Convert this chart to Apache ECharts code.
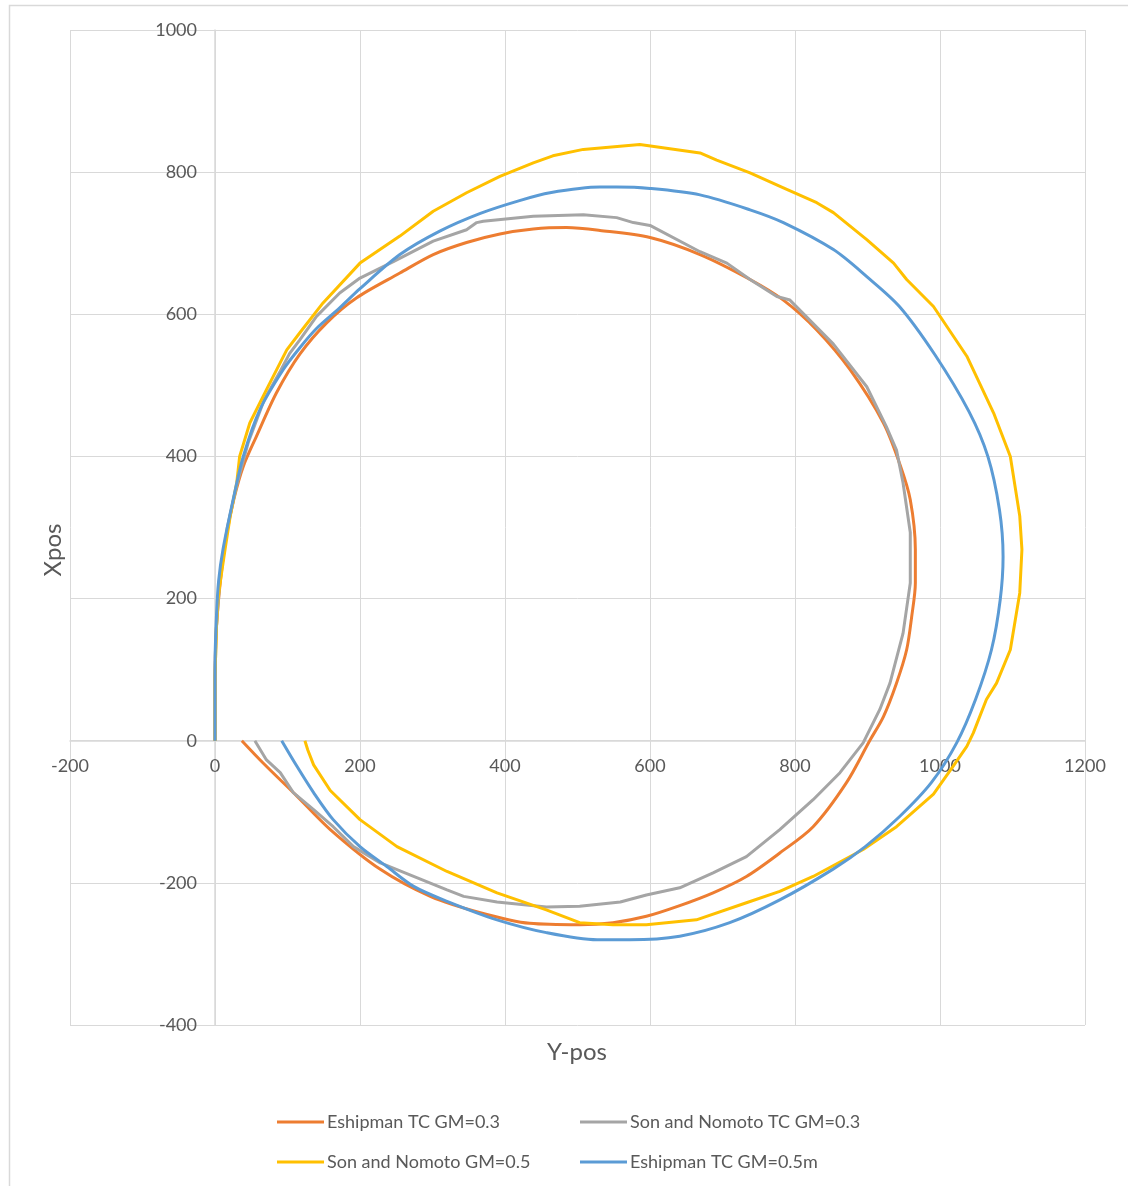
<!DOCTYPE html>
<html>
<head>
<meta charset="utf-8">
<title>Turning circle trajectories</title>
<script src="https://cdn.jsdelivr.net/npm/echarts@6/dist/echarts.min.js"></script>
<style>
  html, body { margin: 0; padding: 0; background: #ffffff; }
  #chart { width: 1128px; height: 1186px; }
</style>
</head>
<body>
<div id="chart"></div>
<script>
// Trajectory points as [Y-pos, Xpos]
const eshipman03 = [
  [0,0],[0,80],[2,160],[8,230],[16,290],[26,340],[39,386],[57,428],[85,490],[117,544],
  [154,588],[195,623],[255,658],[301,684],[347,701],[393,713],[439,720],[485,722],[531,718],
  [600,708],[669,684],[738,649],[784,620],[830,578],[876,522],[922,447],[945,388],[959,339],
  [966,269],[966,222],[961,175],[954,128],[940,81],[922,34],[903,0],[871,-59],[825,-121],
  [779,-158],[733,-191],[687,-214],[641,-232],[595,-247],[549,-256],[503,-259],[434,-257],
  [366,-242],[297,-219],[228,-181],[159,-125],[113,-78],[66,-31],[37,0]
];
const sonNomoto03 = [
  [0,0],[0,90],[2,160],[7,230],[17,300],[30,360],[46,420],[68,480],[90,520],[103,545],
  [117,564],[140,597],[172,630],[200,651],[246,674],[301,703],[347,719],[361,729],[370,731],
  [439,738],[508,740],[554,736],[577,729],[600,725],[669,688],[706,672],[738,649],[775,625],
  [793,620],[853,558],[899,498],[926,442],[940,409],[949,363],[959,293],[959,222],[949,151],
  [931,81],[917,44],[894,-3],[862,-45],[825,-83],[779,-125],[733,-163],[687,-186],[641,-207],
  [595,-217],[559,-227],[503,-233],[457,-234],[389,-227],[343,-219],[320,-210],[274,-191],
  [228,-172],[191,-149],[163,-121],[136,-97],[108,-73],[90,-45],[71,-27],[55,0]
];
const sonNomoto05 = [
  [0,0],[0,90],[2,160],[4,198],[7,222],[14,270],[21,316],[30,363],[34,400],[48,447],
  [71,494],[99,550],[117,574],[149,616],[200,672],[255,710],[301,745],[347,771],[393,794],
  [439,813],[466,823],[508,832],[586,839],[669,827],[692,817],[738,799],[784,778],[830,757],
  [853,743],[899,705],[936,672],[954,649],[991,611],[1037,541],[1074,461],[1097,400],
  [1110,316],[1113,269],[1110,208],[1097,128],[1078,81],[1064,58],[1046,11],[1037,-8],
  [1018,-36],[991,-75],[940,-121],[894,-153],[825,-191],[779,-212],[733,-228],[664,-252],
  [595,-259],[549,-259],[503,-256],[457,-238],[389,-214],[320,-184],[251,-149],[200,-111],
  [159,-70],[136,-34],[128,-13],[124,0]
];
const eshipman05 = [
  [0,0],[0,105],[2,175],[5,225],[11,269],[25,339],[39,400],[62,466],[94,522],[117,553],
  [140,580],[172,609],[200,636],[255,684],[310,717],[366,742],[420,760],[462,771],[531,779],
  [554,779],[600,777],[669,768],[738,747],[784,729],[853,691],[899,653],[944,611],[993,543],
  [1040,463],[1066,400],[1082,325],[1087,259],[1083,198],[1071,128],[1049,58],[1023,-3],
  [988,-59],[944,-107],[897,-149],[852,-181],[779,-224],[710,-256],[641,-275],[572,-280],
  [527,-280],[457,-270],[389,-252],[320,-226],[274,-205],[237,-177],[200,-149],[163,-111],
  [136,-73],[113,-36],[92,0]
];

const seriesNames = ['Eshipman TC GM=0.3', 'Son and Nomoto TC GM=0.3', 'Son and Nomoto GM=0.5', 'Eshipman TC GM=0.5m'];
const seriesData = [eshipman03, sonNomoto03, sonNomoto05, eshipman05];
const seriesColors = ['#ED7D31', '#A5A5A5', '#FFC000', '#5B9BD5'];
const smoothness = [0.3, 0, 0, 0.3];

const FONT = 'Lato, "Open Sans", sans-serif';
const TEXT = '#595959';
const GRID = '#d9d9d9';

// Plot box in pixels; both axes cross at the origin of the data
const plot = { left: 70, right: 43, top: 30, bottom: 161 };
const plotW = 1128 - plot.left - plot.right;
const plotH = 1186 - plot.top - plot.bottom;
const xMin = -200, xMax = 1200, yMin = -400, yMax = 1000;
const xZeroOffset = -(plotW * (0 - xMin) / (xMax - xMin));   // shift y axis to x = 0
const yZeroOffset = -(plotH * (0 - yMin) / (yMax - yMin));   // shift x axis to y = 0

const chart = echarts.init(document.getElementById('chart'), null, { renderer: 'canvas' });

const legendPos = [
  { left: 272, top: 1108 },
  { left: 575, top: 1108 },
  { left: 272, top: 1148 },
  { left: 575, top: 1148 }
];

chart.setOption({
  backgroundColor: '#ffffff',
  animation: false,
  grid: { left: plot.left, right: plot.right, top: plot.top, bottom: plot.bottom, containLabel: false },
  xAxis: {
    type: 'value', min: xMin, max: xMax, interval: 200,
    position: 'bottom', offset: yZeroOffset,
    axisLine: { show: true, onZero: false, lineStyle: { color: GRID, width: 1.5 } },
    axisTick: { show: false },
    axisLabel: { color: TEXT, fontFamily: FONT, fontSize: 18, margin: 16, formatter: v => String(v) },
    splitLine: { show: true, lineStyle: { color: GRID, width: 1 } }
  },
  yAxis: {
    type: 'value', min: yMin, max: yMax, interval: 200,
    position: 'left', offset: xZeroOffset,
    axisLine: { show: true, onZero: false, lineStyle: { color: GRID, width: 1.5 } },
    axisTick: { show: false },
    axisLabel: { color: TEXT, fontFamily: FONT, fontSize: 18, margin: 18, formatter: v => String(v) },
    splitLine: { show: true, lineStyle: { color: GRID, width: 1 } }
  },
  legend: seriesNames.map((n, i) => ({
    data: [n],
    left: legendPos[i].left, top: legendPos[i].top,
    icon: 'rect', itemWidth: 47, itemHeight: 3, itemGap: 0,
    textStyle: { color: TEXT, fontFamily: FONT, fontSize: 18, padding: [0, 0, 0, -2] },
    selectedMode: false
  })),
  graphic: [
    { type: 'rect', left: 7, top: 3, shape: { width: 1135, height: 1195 },
      style: { fill: 'none', stroke: '#d9d9d9', lineWidth: 1.5 }, silent: true },
    { type: 'text', x: 577, y: 1052,
      style: { text: 'Y-pos', fill: TEXT, font: '24px ' + FONT, textAlign: 'center', textVerticalAlign: 'middle' } },
    { type: 'text', rotation: Math.PI / 2, x: 53, y: 550,
      style: { text: 'Xpos', fill: TEXT, font: '24px ' + FONT, textAlign: 'center', textVerticalAlign: 'middle' } }
  ],
  series: seriesNames.map((n, i) => ({
    name: n,
    type: 'line',
    data: seriesData[i],
    showSymbol: false,
    symbol: 'none',
    smooth: smoothness[i],
    lineStyle: { color: seriesColors[i], width: 3 },
    itemStyle: { color: seriesColors[i] },
    z: 2 + i
  }))
});
</script>
</body>
</html>
